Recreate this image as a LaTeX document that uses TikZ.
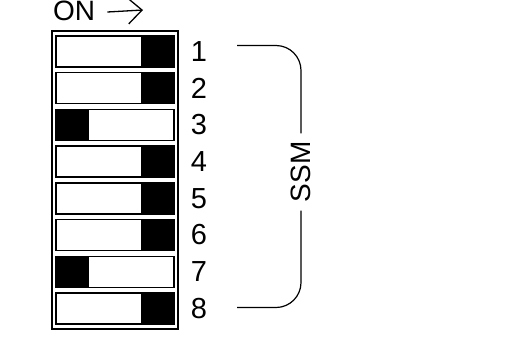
\documentclass[tikz,border=0pt]{standalone}
\usepackage{fontspec}
\setmainfont{Liberation Sans}
\usetikzlibrary{positioning,fit,arrows.meta}

\begin{document}
\begin{tikzpicture}[x=1pt,y=-1pt,
    switch/.style={draw,line width=1.4pt,minimum width=118pt,minimum height=31pt,inner sep=0pt},
    num/.style={font=\fontsize{29}{34}\selectfont,inner sep=0pt},
    bracket/.style={line width=1.2pt,rounded corners=25pt}]

        \useasboundingbox (0,0) rectangle (524,359);

        \foreach \i in {1,...,8}
        {
            \node[switch] (s\i) at (115,{51.5+36.7*(\i-1)}) {};
            \node[num] (n\i) at (199,{51.5+36.7*(\i-1)}) {\i};
        }

        % knobs on the right
        \foreach \i in {1,2,4,5,6,8}
            \fill (s\i.north east) rectangle ([xshift=-34pt]s\i.south east);
        % knobs on the left
        \foreach \i in {3,7}
            \fill (s\i.north west) rectangle ([xshift=34pt]s\i.south west);

        \node[draw,line width=2pt,inner xsep=3pt,inner ysep=4pt,fit=(s1)(s8)] (dip) {};

        \node[num,font=\fontsize{28}{32}\selectfont,anchor=west] (on) at (53,11) {ON};
        \coordinate (onarrow) at (143,10);
        \draw[line width=1.3pt,-{Straight Barb[length=14pt,width=26pt]}] ([xshift=12pt,yshift=-1pt]on.east) -- (onarrow);

        \node[num,font=\fontsize{28}{32}\selectfont,rotate=90,inner xsep=8pt] (ssm) at (301,172) {SSM};

        \coordinate (b1) at (237,45.5);
        \coordinate (b8) at (237,307.5);
        \draw[bracket] (b1) -| (ssm.east);
        \draw[bracket] (b8) -| (ssm.west);

    \end{tikzpicture}
\end{document}
